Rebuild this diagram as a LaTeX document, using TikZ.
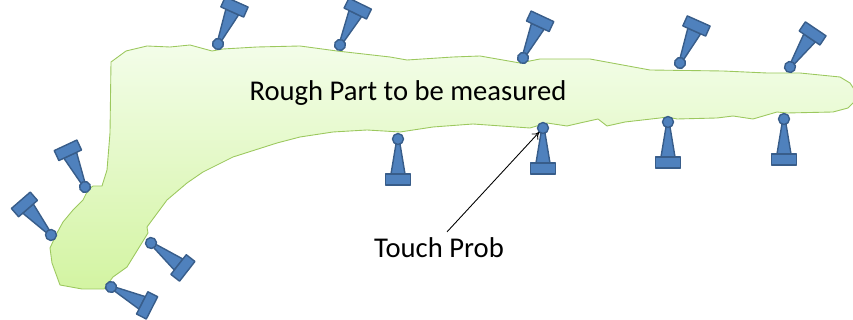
\documentclass[tikz,border=0pt]{standalone}
\usepackage{fontspec}
\setmainfont{Carlito}
\usepackage{tikz}
\usetikzlibrary{
  arrows.meta
}

\definecolor{probefill}{HTML}{4F81BD}
\definecolor{probeline}{HTML}{385D8A}
\definecolor{parttop}{HTML}{F3FDE9}
\definecolor{partbottom}{HTML}{D3F4A2}
\definecolor{partline}{HTML}{9CC85E}

\begin{document}
\begin{tikzpicture}[
  x=0.02cm,
  y=-0.02cm,
  font=\fontsize{16.3}{19}\selectfont,
  part/.style={
    draw=partline,
    line width=0.5pt,
    line join=round,
    top color=parttop,
    bottom color=partbottom
  },
  probebody/.style={
    fill=probefill,
    draw=probeline,
    line width=0.8pt,
    line join=round
  },
  pointer/.style={
    -{To[length=4pt,width=5pt]},
    line width=0.5pt,
    draw=black,
    shorten >=3pt
  },
  pics/probe/.style={code={
    \path[probebody] (2,-1.5) -- (2,1.5) -- (35,7) -- (35,-7) -- cycle;
    \path[probebody] (35,-12.5) rectangle (46,12.5);
    \path[probebody] (0,0) circle[radius=5.5];
  }}
]

\clip (0,0) rectangle (853,320);

% the rough part
\path[part] (111,62) -- (126,51) -- (147,46) -- (170,47) -- (190,45) -- (212,51)
  -- (223,49) -- (257,47) -- (300,46) -- (337,51) -- (390,57) -- (407,60)
  -- (453,57) -- (480,56) -- (520,63) -- (540,59) -- (590,59) -- (650,70)
  -- (723,71) -- (767,73) -- (800,73) -- (840,77) -- (850,83) -- (856,92)
  -- (856,100) -- (848,108) -- (833,112) -- (787,113) -- (777,112) -- (753,119)
  -- (733,116) -- (717,118) -- (677,119) -- (667,117) -- (660,118) -- (625,122)
  -- (607,126) -- (598,119) -- (580,123) -- (567,126) -- (547,123) -- (530,128)
  -- (473,124) -- (433,127) -- (400,132) -- (367,130) -- (333,132) -- (300,137)
  -- (277,143) -- (233,157) -- (203,172) -- (187,183) -- (167,200) -- (147,227)
  -- (148,233) -- (127,267) -- (113,277) -- (104,289) -- (82,289) -- (60,285)
  -- (52,263) -- (50,248) -- (57,233) -- (63,222) -- (73,210) -- (83,200)
  -- (88,190) -- (93,186) -- (102,186) -- (107,170) -- (110,133) -- cycle;

\node[anchor=base] (partlabel) at (408,101) {Rough Part to be measured};

% probes touching the top edge
\coordinate (ball1) at (218,44);
\coordinate (ball2) at (340,45);
\coordinate (ball3) at (523,58);
\coordinate (ball4) at (680,63);
\coordinate (ball5) at (790,67);
\pic[rotate=66] at (ball1) {probe};
\pic[rotate=64] at (ball2) {probe};
\pic[rotate=65] at (ball3) {probe};
\pic[rotate=66] at (ball4) {probe};
\pic[rotate=56] at (ball5) {probe};

% probes under the part
\coordinate (ball6) at (398,139);
\coordinate (ball7) at (543,128);
\coordinate (ball8) at (668,122);
\coordinate (ball9) at (784,119);
\pic[rotate=-90] at (ball6) {probe};
\pic[rotate=-90] at (ball7) {probe};
\pic[rotate=-90] at (ball8) {probe};
\pic[rotate=-90] at (ball9) {probe};

% probes round the bent end
\coordinate (ball10) at (85,187);
\coordinate (ball11) at (51,235);
\coordinate (ball12) at (151,243);
\coordinate (ball13) at (111,287);
\pic[rotate=115] at (ball10) {probe};
\pic[rotate=131] at (ball11) {probe};
\pic[rotate=-38] at (ball12) {probe};
\pic[rotate=-27] at (ball13) {probe};

\node[anchor=base] (touch) at (439,258) {Touch Prob};
\draw[pointer] ([shift={(8,0)}]touch.north) -- (ball7);

\end{tikzpicture}
\end{document}
